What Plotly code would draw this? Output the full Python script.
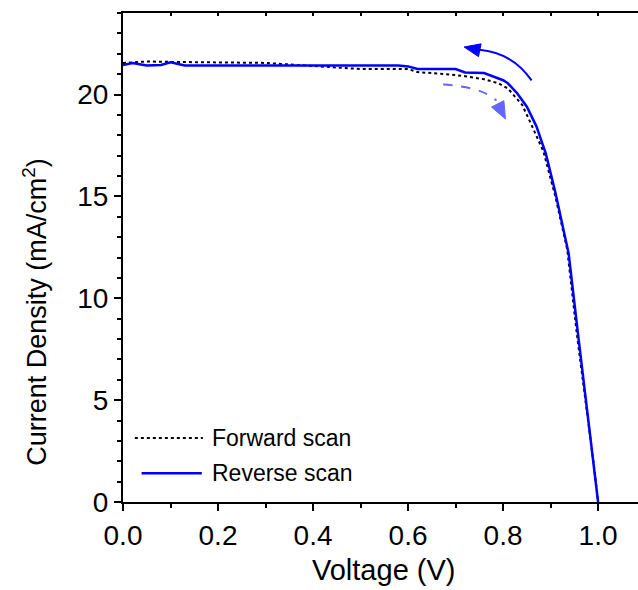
import math
import plotly.graph_objects as go

# Reverse scan (blue solid)
rev_v = [0.0, 0.02, 0.05, 0.08, 0.10, 0.13, 0.2, 0.3, 0.4, 0.5, 0.58, 0.60, 0.62, 0.65, 0.70,
         0.72, 0.76, 0.80, 0.81, 0.83, 0.85, 0.87, 0.89, 0.91, 0.93, 0.938, 0.96, 0.976, 0.99, 1.0]
rev_j = [21.45, 21.55, 21.42, 21.45, 21.58, 21.42, 21.42, 21.42, 21.42, 21.42, 21.42, 21.38, 21.25, 21.25, 21.25,
         21.08, 21.05, 20.7, 20.55, 20.05, 19.4, 18.45, 17.1, 15.2, 13.1, 12.2, 7.8, 4.7, 2.0, 0.0]

# Forward scan (black dotted)
fwd_v = [0.0, 0.05, 0.1, 0.15, 0.2, 0.3, 0.4, 0.5, 0.6, 0.62, 0.68, 0.72, 0.76, 0.79, 0.81,
         0.84, 0.86, 0.885, 0.91, 0.935, 0.955, 0.975, 0.99, 1.0]
fwd_j = [21.55, 21.62, 21.6, 21.58, 21.57, 21.55, 21.4, 21.25, 21.25, 21.1, 21.0, 20.9, 20.75, 20.55, 20.3,
         19.5, 18.5, 17.2, 15.0, 12.4, 8.3, 4.8, 2.0, 0.0]

legend_names = ["Forward scan", "Reverse scan"]
x_ticks = [0.0, 0.2, 0.4, 0.6, 0.8, 1.0]
y_ticks = [0, 5, 10, 15, 20]
x_range = [0, 1.084]
y_range = [0, 24]

FONT = "Liberation Sans, Arial, sans-serif"
W, H = 638, 590
ML, MR, MT, MB = 123, 0, 13, 88
SX = (W - ML - MR) / (x_range[1] - x_range[0])   # px per V
SY = (H - MT - MB) / (y_range[1] - y_range[0])   # px per mA/cm2


def arrowhead(tip, tail, length=16, half=6.5):
    """Filled triangle (data coords) pointing from tail to tip."""
    dx = (tip[0] - tail[0]) * SX
    dy = (tip[1] - tail[1]) * SY
    n = math.hypot(dx, dy)
    ux, uy = dx / n, dy / n
    bx, by = -ux * length, -uy * length
    px, py = -uy * half, ux * half
    p1 = (tip[0] + (bx + px) / SX, tip[1] + (by + py) / SY)
    p2 = (tip[0] + (bx - px) / SX, tip[1] + (by - py) / SY)
    return f"M {tip[0]},{tip[1]} L {p1[0]},{p1[1]} L {p2[0]},{p2[1]} Z"


fig = go.Figure()
fig.add_trace(go.Scatter(x=fwd_v, y=fwd_j, mode="lines", name=legend_names[0],
                         line=dict(color="black", width=2, dash="dot"), showlegend=False))
fig.add_trace(go.Scatter(x=rev_v, y=rev_j, mode="lines", name=legend_names[1],
                         line=dict(color="#0000ff", width=2.5), showlegend=False))
# helper trace for top (mirrored) minor ticks
fig.add_trace(go.Scatter(x=[None], y=[None], xaxis="x2", showlegend=False, hoverinfo="skip"))

# manual legend
leg_y = [0.131, 0.059]
fig.add_shape(type="line", xref="paper", yref="paper", x0=0.023, x1=0.155, y0=leg_y[0], y1=leg_y[0],
              line=dict(color="black", width=2, dash="dot"))
fig.add_shape(type="line", xref="paper", yref="paper", x0=0.036, x1=0.153, y0=leg_y[1], y1=leg_y[1],
              line=dict(color="#0000ff", width=2.5))
for name, yy in zip(legend_names, leg_y):
    fig.add_annotation(text=name, xref="paper", yref="paper", x=0.168, y=yy, xanchor="left",
                       yanchor="middle", showarrow=False, font=dict(family=FONT, size=23, color="black"))

# curved arrows
fig.add_shape(type="path", xref="x", yref="y", path="M 0.86,20.69 Q 0.82,22.05 0.75,22.2",
              line=dict(color="#0000ff", width=2))
fig.add_shape(type="path", xref="x", yref="y", path=arrowhead((0.718, 22.33), (0.756, 22.15)),
              line=dict(color="#0000ff", width=1), fillcolor="#0000ff")
fig.add_shape(type="path", xref="x", yref="y", path="M 0.674,20.49 Q 0.755,20.38 0.786,19.7",
              line=dict(color="#6464ff", width=2, dash="dash"))
fig.add_shape(type="path", xref="x", yref="y", path=arrowhead((0.805, 18.8), (0.784, 19.75), 17, 7),
              line=dict(color="#6464ff", width=1), fillcolor="#6464ff")

# axis titles
fig.add_annotation(text="Voltage (V)", xref="paper", yref="paper", x=0.505, y=-0.139,
                   xanchor="center", yanchor="middle", showarrow=False,
                   font=dict(family=FONT, size=29, color="black"))
fig.add_annotation(text="Current Density (mA/cm<sup>2</sup>)", xref="paper", yref="paper",
                   x=-0.171, y=0.389, xanchor="center", yanchor="middle", textangle=-90,
                   showarrow=False, font=dict(family=FONT, size=27, color="black"))

fig.update_layout(
    width=W, height=H,
    margin=dict(l=ML, r=MR, t=MT, b=MB),
    paper_bgcolor="white", plot_bgcolor="white",
    font=dict(family=FONT, color="black"),
    xaxis=dict(range=x_range, tickvals=x_ticks, tickformat=".1f", ticks="outside", ticklen=7, tickwidth=2,
               tickcolor="black", showline=True, linewidth=2, linecolor="black", mirror=True,
               showgrid=False, zeroline=False, tickfont=dict(size=28),
               minor=dict(dtick=0.1, ticks="outside", ticklen=4, tickwidth=2, tickcolor="black", showgrid=False)),
    xaxis2=dict(range=x_range, overlaying="x", side="top", showticklabels=False, ticks="inside",
                dtick=0.1, tick0=0, ticklen=3, tickwidth=1.5, tickcolor="black", showgrid=False,
                showline=False, zeroline=False),
    yaxis=dict(range=y_range, tickvals=y_ticks, ticks="outside", ticklen=7, tickwidth=2, tickcolor="black",
               showline=True, linewidth=2, linecolor="black", showgrid=False, zeroline=False,
               tickfont=dict(size=28),
               minor=dict(dtick=1, ticks="outside", ticklen=4, tickwidth=2, tickcolor="black", showgrid=False)),
)

fig.write_html("out.html", config={"displayModeBar": False},
               post_script="document.body.style.margin='0';document.body.style.overflow='hidden';")
